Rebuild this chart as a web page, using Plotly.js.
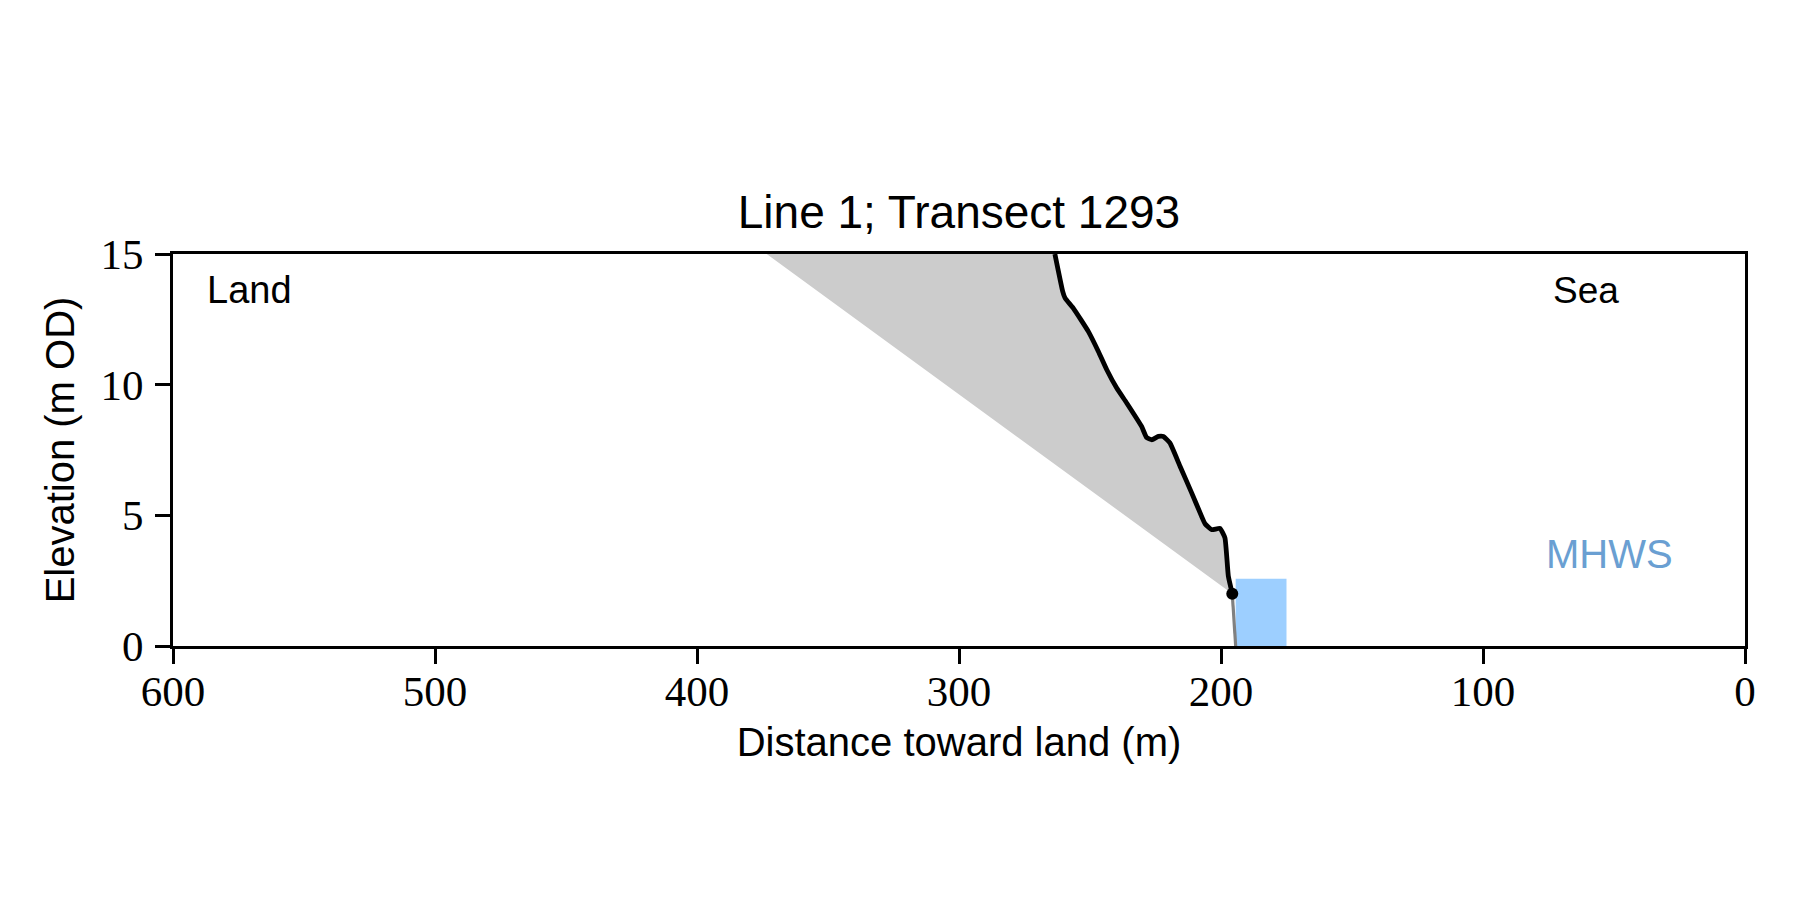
<!DOCTYPE html>
<html>
<head>
<meta charset="utf-8">
<script src="https://cdn.plot.ly/plotly-3.0.1.min.js"></script>
<style>html,body{margin:0;padding:0;background:#fff;}#chart{width:1800px;height:900px;}</style>
</head>
<body>
<div id="chart"></div>
<script>
// Cliff profile (distance toward land, elevation m OD), from crest at top of frame down to toe
const profileX = [263.4, 260.4, 259.5, 256.4, 250.6, 246.8, 243.6, 239.8, 236.0, 230.3, 228.4, 226.4, 223.9, 222.0, 219.5, 215.6, 211.2, 207.4, 206.1, 203.5, 200.4, 198.5, 197.2, 195.7];
const profileY = [15.0, 13.56, 13.31, 12.93, 12.03, 11.27, 10.57, 9.87, 9.30, 8.40, 7.98, 7.89, 8.02, 8.02, 7.77, 6.87, 5.86, 4.96, 4.68, 4.45, 4.50, 4.14, 2.67, 2.0];
// Toe point and beach segment below it
const toeX = [195.7];
const toeY = [2.0];
const beachX = [195.7, 194.4];
const beachY = [2.0, 0.0];
// Projected slope line from toe back to top of frame
const slopeTopX = 373.4;
const slopeTopY = 15.0;
// MHWS band
const mhwsLevel = 2.57;
const mhwsX = [194.4, 175.0];
const mhwsLabelX = 51.7;
const mhwsLabelY = 3.52;
// Axes
const xTicks = [600, 500, 400, 300, 200, 100, 0];
const yTicks = [0, 5, 10, 15];

const sans = "Liberation Sans, Arial, sans-serif";
const serif = "Liberation Serif, Times New Roman, serif";

const traces = [
  {
    x: [slopeTopX].concat(profileX),
    y: [slopeTopY].concat(profileY),
    type: 'scatter', mode: 'lines', fill: 'toself',
    fillcolor: '#cccccc', line: {width: 0, color: '#cccccc'},
    hoverinfo: 'skip', showlegend: false
  },
  {
    x: [mhwsX[0], mhwsX[1], mhwsX[1], mhwsX[0]],
    y: [0, 0, mhwsLevel, mhwsLevel],
    type: 'scatter', mode: 'lines', fill: 'toself',
    fillcolor: '#9dcfff', line: {width: 0, color: '#9dcfff'},
    hoverinfo: 'skip', showlegend: false
  },
  {
    x: beachX, y: beachY, type: 'scatter', mode: 'lines',
    line: {color: '#808080', width: 3.2}, showlegend: false
  },
  {
    x: profileX, y: profileY, type: 'scatter', mode: 'lines',
    line: {color: '#000000', width: 4.8, shape: 'spline', smoothing: 0.4}, showlegend: false
  },
  {
    x: toeX, y: toeY, type: 'scatter', mode: 'markers',
    marker: {color: '#000000', size: 12}, showlegend: false
  }
];

const layout = {
  width: 1800, height: 900,
  paper_bgcolor: '#ffffff', plot_bgcolor: '#ffffff',
  margin: {l: 173, r: 55, t: 254, b: 254},
  showlegend: false,
  title: {
    text: 'Line 1; Transect 1293',
    font: {family: sans, size: 46, color: '#000'},
    x: 0.5, xref: 'paper', xanchor: 'center',
    y: 1 - 212 / 900, yref: 'container', yanchor: 'middle'
  },
  xaxis: {
    range: [600, 0],
    tickvals: xTicks, ticktext: xTicks.map(String),
    ticks: 'outside', ticklen: 15, tickwidth: 3, tickcolor: '#000',
    ticklabelstandoff: -10,
    showline: true, linecolor: '#000', linewidth: 3, mirror: true,
    showgrid: false, zeroline: false,
    tickfont: {family: serif, size: 43, color: '#000'},
    title: {text: 'Distance toward land (m)', font: {family: sans, size: 40, color: '#000'}, standoff: 15}
  },
  yaxis: {
    range: [0, 15],
    tickvals: yTicks, ticktext: yTicks.map(String),
    ticks: 'outside', ticklen: 15, tickwidth: 3, tickcolor: '#000',
    ticklabelstandoff: 3,
    showline: true, linecolor: '#000', linewidth: 3, mirror: true,
    showgrid: false, zeroline: false,
    tickfont: {family: serif, size: 43, color: '#000'},
    title: {text: 'Elevation (m OD)', font: {family: sans, size: 40, color: '#000'}, standoff: 14}
  },
  annotations: [
    {text: 'Land', xref: 'paper', yref: 'paper', x: 0.0205, y: 0.907, xanchor: 'left', yanchor: 'middle',
     showarrow: false, font: {family: sans, size: 38, color: '#000'}},
    {text: 'Sea', xref: 'paper', yref: 'paper', x: 0.899, y: 0.907, xanchor: 'center', yanchor: 'middle',
     showarrow: false, font: {family: sans, size: 37, color: '#000'}},
    {text: 'MHWS', xref: 'x', yref: 'y', x: mhwsLabelX, y: mhwsLabelY, xanchor: 'center', yanchor: 'middle',
     showarrow: false, font: {family: sans, size: 40, color: '#6a9fd2'}}
  ]
};

Plotly.newPlot('chart', traces, layout, {displayModeBar: false, staticPlot: true});
</script>
</body>
</html>
